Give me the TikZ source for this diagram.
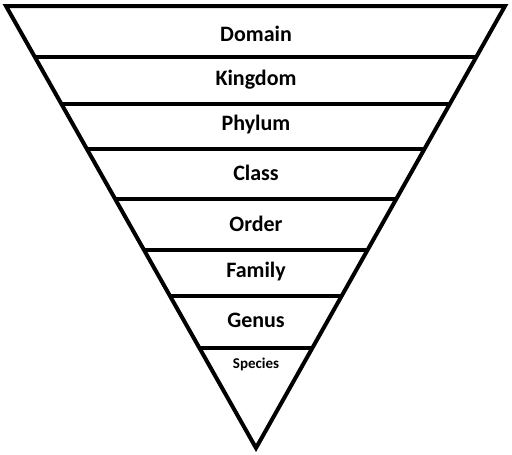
\documentclass[tikz,border=0pt]{standalone}
\usepackage{fontspec}
\setmainfont{Carlito}
\usetikzlibrary{calc}
\begin{document}
\begin{tikzpicture}[x=1pt,y=-1pt,
  edge/.style={line width=4pt,line join=miter},
  lbl/.style={font=\fontsize{22}{24}\selectfont\bfseries},
  small/.style={font=\fontsize{15}{17}\selectfont\bfseries}]
\useasboundingbox (0,0) rectangle (512,455);
\coordinate (TL) at (6,6);
\coordinate (TR) at (505,6);
\coordinate (A) at (256,448);
\draw[edge] (TL) -- (TR) -- (A) -- cycle;
\foreach \y in {57,104,149,199,250,296,348}{
  \pgfmathsetmacro\t{(\y-6)/442}
  \draw[edge] ($(TL)!\t!(A)$) -- ($(TR)!\t!(A)$);
}
\node[lbl] (d) at (256,34) {Domain};
\node[lbl] (k) at (256,80) {Kingdom};
\node[lbl] (p) at (256,125) {Phylum};
\node[lbl] (c) at (256,173) {Class};
\node[lbl] (o) at (256,224) {Order};
\node[lbl] (f) at (256,272) {Family};
\node[lbl] (g) at (256,320) {Genus};
\node[small] (s) at (256,364) {Species};
\end{tikzpicture}
\end{document}
